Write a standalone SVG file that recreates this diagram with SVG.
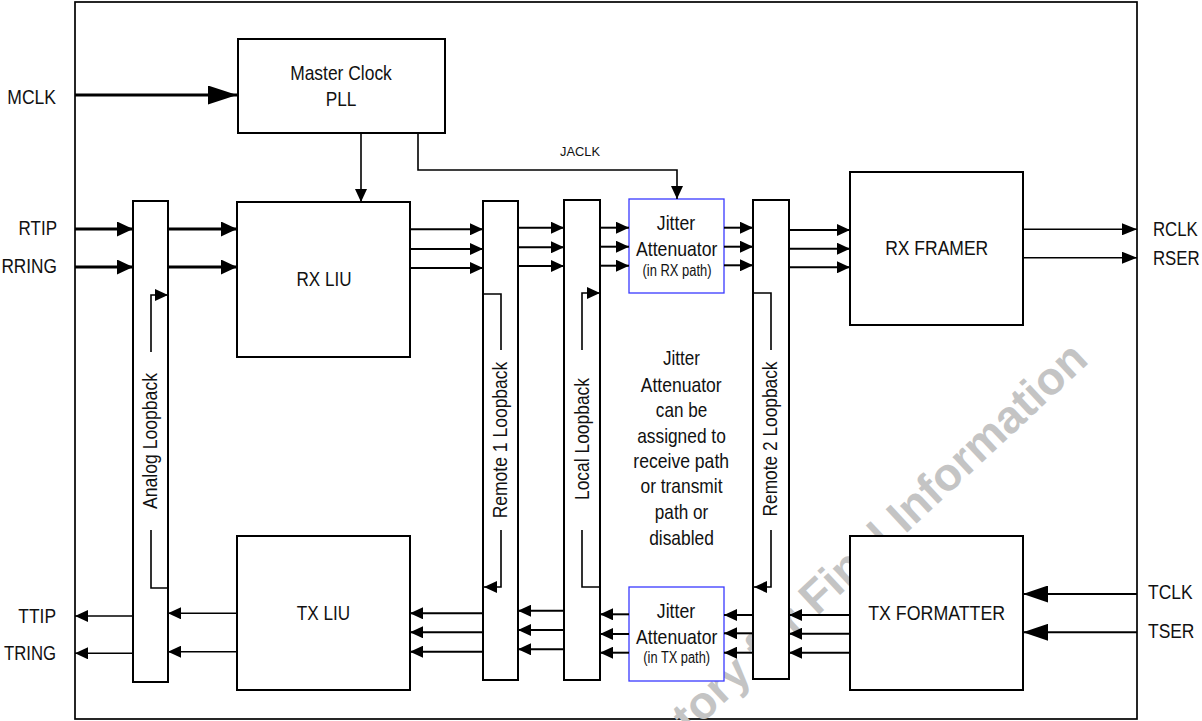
<svg xmlns="http://www.w3.org/2000/svg" width="1202" height="721" viewBox="0 0 1202 721">
<style>
.box{fill:#fff;stroke:#000;stroke-width:2}
.ja{fill:#fff;stroke:#3a3aff;stroke-width:1.3}
.frame{fill:#fff;stroke:#000;stroke-width:1.7}
text{font-family:"Liberation Sans Narrow","Liberation Sans",Arial,sans-serif;font-size:21px;fill:#111}
.c{text-anchor:middle}
.e{text-anchor:end}
.s{font-size:16px}
.sm{font-size:13px}
.w{stroke:#000;fill:none}
.t3{stroke-width:3}
.t2{stroke-width:2}
.t1{stroke-width:1.6}
.wm2{font-family:"Liberation Sans",Arial,sans-serif;font-weight:bold;font-size:46px;fill:#c4c4c4}
</style>
<defs>
<marker id="ah" markerUnits="userSpaceOnUse" markerWidth="13" markerHeight="12" refX="13" refY="6" orient="auto"><path d="M0,0 L13,6 L0,12 Z" fill="#000"/></marker>
<marker id="ahr" markerUnits="userSpaceOnUse" markerWidth="15" markerHeight="12" refX="15" refY="6" orient="auto"><path d="M0,0 L15,6 L0,12 Z" fill="#000"/></marker>
<marker id="ahm" markerUnits="userSpaceOnUse" markerWidth="16" markerHeight="15" refX="16" refY="7.5" orient="auto"><path d="M0,0 L16,7.5 L0,15 Z" fill="#000"/></marker>
<marker id="ahl" markerUnits="userSpaceOnUse" markerWidth="29" markerHeight="19" refX="29" refY="9.5" orient="auto"><path d="M0,0 L29,9.5 L0,19 Z" fill="#000"/></marker>
<marker id="aht" markerUnits="userSpaceOnUse" markerWidth="25" markerHeight="17" refX="25" refY="8.5" orient="auto"><path d="M0,0 L25,8.5 L0,17 Z" fill="#000"/></marker>
</defs>

<rect id="frame" class="frame" x="75" y="2" width="1062" height="717"/>

<g id="watermark">
<text class="wm2" transform="translate(1090,362) rotate(-43)" text-anchor="end">tory for Final Information</text>
</g>

<g id="pins">
<text class="e" x="56" y="104" textLength="48.7" lengthAdjust="spacingAndGlyphs">MCLK</text>
<text class="e" x="57" y="235" textLength="38.4" lengthAdjust="spacingAndGlyphs">RTIP</text>
<text class="e" x="57" y="273" textLength="55.6" lengthAdjust="spacingAndGlyphs">RRING</text>
<text class="e" x="56" y="622.5" textLength="37.7" lengthAdjust="spacingAndGlyphs">TTIP</text>
<text class="e" x="56" y="660" textLength="52" lengthAdjust="spacingAndGlyphs">TRING</text>
<text transform="translate(1153,236) scale(0.8,1)">RCLK</text>
<text transform="translate(1153,265) scale(0.8,1)">RSER</text>
<text transform="translate(1148,599) scale(0.83,1)">TCLK</text>
<text transform="translate(1148,637.5) scale(0.83,1)">TSER</text>
</g>

<g id="master-clock-pll">
<rect class="box" x="238" y="39" width="207" height="94"/>
<text class="c" x="341" y="80" textLength="101.7" lengthAdjust="spacingAndGlyphs">Master Clock</text>
<text class="c" x="341" y="106" textLength="30.7" lengthAdjust="spacingAndGlyphs">PLL</text>
</g>

<g id="rx-liu">
<rect class="box" x="237" y="202" width="173" height="155"/>
<text class="c" x="324" y="286" textLength="55" lengthAdjust="spacingAndGlyphs">RX LIU</text>
</g>

<g id="tx-liu">
<rect class="box" x="237" y="536" width="173" height="154"/>
<text class="c" x="323.5" y="620" textLength="53.3" lengthAdjust="spacingAndGlyphs">TX LIU</text>
</g>

<g id="analog-loopback">
<rect class="box" x="133" y="201" width="35" height="481"/>
<text class="c" transform="translate(157,441) rotate(-90)" textLength="136" lengthAdjust="spacingAndGlyphs">Analog Loopback</text>
</g>

<g id="remote1-loopback">
<rect class="box" x="483" y="201" width="35" height="479"/>
<text class="c" transform="translate(507,440) rotate(-90)" textLength="156.7" lengthAdjust="spacingAndGlyphs">Remote 1 Loopback</text>
</g>

<g id="local-loopback">
<rect class="box" x="564" y="200" width="36" height="480"/>
<text class="c" transform="translate(588.5,439) rotate(-90)" textLength="122" lengthAdjust="spacingAndGlyphs">Local Loopback</text>
</g>

<g id="remote2-loopback">
<rect class="box" x="753" y="200" width="36" height="479"/>
<text class="c" transform="translate(777,439) rotate(-90)" textLength="155" lengthAdjust="spacingAndGlyphs">Remote 2 Loopback</text>
</g>

<g id="jitter-rx">
<rect class="ja" x="629" y="199" width="95" height="94"/>
<text class="c" x="676" y="230" textLength="38.3" lengthAdjust="spacingAndGlyphs">Jitter</text>
<text class="c" x="676.7" y="256" textLength="81.3" lengthAdjust="spacingAndGlyphs">Attenuator</text>
<text class="c s" x="677" y="276" textLength="69" lengthAdjust="spacingAndGlyphs">(in RX path)</text>
</g>

<g id="jitter-tx">
<rect class="ja" x="629" y="587" width="95" height="94"/>
<text class="c" x="676" y="617.5" textLength="38.3" lengthAdjust="spacingAndGlyphs">Jitter</text>
<text class="c" x="676.7" y="644" textLength="81.3" lengthAdjust="spacingAndGlyphs">Attenuator</text>
<text class="c s" x="676.7" y="663" textLength="66.7" lengthAdjust="spacingAndGlyphs">(in TX path)</text>
</g>

<g id="jitter-note">
<text class="c" x="681.5" y="365" textLength="37" lengthAdjust="spacingAndGlyphs">Jitter</text>
<text class="c" x="681.2" y="391.7" textLength="81" lengthAdjust="spacingAndGlyphs">Attenuator</text>
<text class="c" x="681.5" y="416.7" textLength="51.3" lengthAdjust="spacingAndGlyphs">can be</text>
<text class="c" x="681.5" y="442.5" textLength="88.7" lengthAdjust="spacingAndGlyphs">assigned to</text>
<text class="c" x="681.2" y="468" textLength="95.7" lengthAdjust="spacingAndGlyphs">receive path</text>
<text class="c" x="681.5" y="493.3" textLength="82" lengthAdjust="spacingAndGlyphs">or transmit</text>
<text class="c" x="681.5" y="519.3" textLength="53.3" lengthAdjust="spacingAndGlyphs">path or</text>
<text class="c" x="681.5" y="545" textLength="64.7" lengthAdjust="spacingAndGlyphs">disabled</text>
</g>

<g id="rx-framer">
<rect class="box" x="850" y="172" width="173" height="153"/>
<text class="c" x="936.7" y="255" textLength="103" lengthAdjust="spacingAndGlyphs">RX FRAMER</text>
</g>

<g id="tx-formatter">
<rect class="box" x="850" y="536" width="173" height="154"/>
<text class="c" x="936.7" y="620" textLength="137" lengthAdjust="spacingAndGlyphs">TX FORMATTER</text>
</g>

<g id="connectors" class="w">
<line class="t3" x1="75" y1="95" x2="237" y2="95" marker-end="url(#ahl)"/>
<line class="t1" x1="361" y1="133" x2="361" y2="202" marker-end="url(#ah)"/>
<polyline class="t1" points="418,133 418,170 677,170 677,199" marker-end="url(#ah)"/>
<text class="c sm" x="580" y="156" stroke="none" textLength="40" lengthAdjust="spacingAndGlyphs">JACLK</text>

<line class="t3" x1="75" y1="229" x2="133" y2="229" marker-end="url(#ahm)"/>
<line class="t3" x1="168" y1="229" x2="237" y2="229" marker-end="url(#ahm)"/>
<line class="t3" x1="75" y1="267" x2="133" y2="267" marker-end="url(#ahm)"/>
<line class="t3" x1="168" y1="267" x2="237" y2="267" marker-end="url(#ahm)"/>

<polyline class="t1" points="168,588 151,588 151,530"/>
<polyline class="t1" points="151,352 151,295 168,295" marker-end="url(#ah)"/>

<line class="t2" x1="410" y1="229.3" x2="483" y2="229.3" marker-end="url(#ah)"/>
<line class="t2" x1="410" y1="249" x2="483" y2="249" marker-end="url(#ah)"/>
<line class="t2" x1="410" y1="268" x2="483" y2="268" marker-end="url(#ah)"/>

<line class="t2" x1="518" y1="227.7" x2="564" y2="227.7" marker-end="url(#ah)"/>
<line class="t2" x1="518" y1="247.3" x2="564" y2="247.3" marker-end="url(#ah)"/>
<line class="t2" x1="518" y1="266" x2="564" y2="266" marker-end="url(#ah)"/>

<line class="t2" x1="600" y1="227.7" x2="629" y2="227.7" marker-end="url(#ah)"/>
<line class="t2" x1="600" y1="246.7" x2="629" y2="246.7" marker-end="url(#ah)"/>
<line class="t2" x1="600" y1="265.7" x2="629" y2="265.7" marker-end="url(#ah)"/>

<line class="t2" x1="724" y1="227.7" x2="753" y2="227.7" marker-end="url(#ah)"/>
<line class="t2" x1="724" y1="246.7" x2="753" y2="246.7" marker-end="url(#ah)"/>
<line class="t2" x1="724" y1="265.3" x2="753" y2="265.3" marker-end="url(#ah)"/>

<line class="t2" x1="789" y1="230" x2="850" y2="230" marker-end="url(#ah)"/>
<line class="t2" x1="789" y1="248.7" x2="850" y2="248.7" marker-end="url(#ah)"/>
<line class="t2" x1="789" y1="267.3" x2="850" y2="267.3" marker-end="url(#ah)"/>

<polyline class="t1" points="483,294 501,294 501,350"/>
<polyline class="t1" points="501,530 501,587 484,587" marker-end="url(#ah)"/>
<polyline class="t1" points="600,587 582,587 582,530"/>
<polyline class="t1" points="582,350 582,293 600,293" marker-end="url(#ah)"/>
<polyline class="t1" points="753,293 771,293 771,350"/>
<polyline class="t1" points="771,530 771,587 754,587" marker-end="url(#ah)"/>

<line class="t2" x1="850" y1="615" x2="789" y2="615" marker-end="url(#ah)"/>
<line class="t2" x1="850" y1="633.7" x2="789" y2="633.7" marker-end="url(#ah)"/>
<line class="t2" x1="850" y1="652.7" x2="789" y2="652.7" marker-end="url(#ah)"/>

<line class="t2" x1="753" y1="615" x2="724" y2="615" marker-end="url(#ah)"/>
<line class="t2" x1="753" y1="633.3" x2="724" y2="633.3" marker-end="url(#ah)"/>
<line class="t2" x1="753" y1="652.7" x2="724" y2="652.7" marker-end="url(#ah)"/>

<line class="t2" x1="629" y1="614.3" x2="600" y2="614.3" marker-end="url(#ah)"/>
<line class="t2" x1="629" y1="634" x2="600" y2="634" marker-end="url(#ah)"/>
<line class="t2" x1="629" y1="652.7" x2="600" y2="652.7" marker-end="url(#ah)"/>

<line class="t2" x1="564" y1="610.7" x2="518" y2="610.7" marker-end="url(#ah)"/>
<line class="t2" x1="564" y1="630" x2="518" y2="630" marker-end="url(#ah)"/>
<line class="t2" x1="564" y1="649.3" x2="518" y2="649.3" marker-end="url(#ah)"/>

<line class="t2" x1="483" y1="613.3" x2="410" y2="613.3" marker-end="url(#ah)"/>
<line class="t2" x1="483" y1="632.3" x2="410" y2="632.3" marker-end="url(#ah)"/>
<line class="t2" x1="483" y1="651.7" x2="410" y2="651.7" marker-end="url(#ah)"/>

<line class="t1" x1="237" y1="613.3" x2="168" y2="613.3" marker-end="url(#ah)"/>
<line class="t1" x1="237" y1="651.7" x2="168" y2="651.7" marker-end="url(#ah)"/>
<line class="t1" x1="133" y1="616" x2="75" y2="616" marker-end="url(#ah)"/>
<line class="t1" x1="133" y1="653.3" x2="75" y2="653.3" marker-end="url(#ah)"/>

<line class="t1" x1="1023" y1="229.3" x2="1137" y2="229.3" marker-end="url(#ahr)"/>
<line class="t1" x1="1023" y1="257.7" x2="1137" y2="257.7" marker-end="url(#ahr)"/>
<line class="t2" x1="1137" y1="594" x2="1023" y2="594" marker-end="url(#aht)"/>
<line class="t2" x1="1137" y1="632.3" x2="1023" y2="632.3" marker-end="url(#aht)"/>
</g>
</svg>
